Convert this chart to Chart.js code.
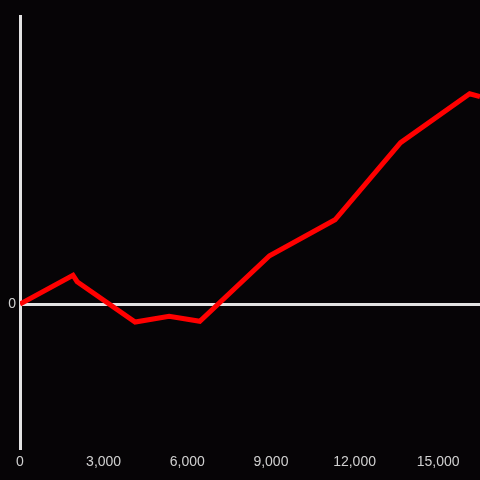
<!DOCTYPE html>
<html>
<head>
<meta charset="utf-8">
<script src="https://cdn.jsdelivr.net/npm/chart.js@4"></script>
<style>
  html, body { margin: 0; padding: 0; background: #060406; }
  #wrap { width: 480px; height: 480px; }
</style>
</head>
<body>
<div id="wrap"><canvas id="chart" width="480" height="480"></canvas></div>
<script>
// values
const xValues = [0, 1900, 2050, 4130, 5350, 6450, 8950, 11300, 13650, 16130, 16500];
const yValues = [0, 0.20, 0.155, -0.125, -0.085, -0.12, 0.335, 0.585, 1.12, 1.46, 1.44];
const xTicks = [0, 3000, 6000, 9000, 12000, 15000];
const yTickLabels = ['0'];

const AXIS_COLOR = '#e2e2e2';
const TEXT_COLOR = '#d0d0d0';

let points = xValues.map((x, i) => ({ x: x, y: yValues[i] }));

const bgPlugin = {
  id: 'bg',
  beforeDraw(chart) {
    let c = chart.ctx;
    c.save();
    c.fillStyle = '#060406';
    c.fillRect(0, 0, chart.width, chart.height);
    c.restore();
  }
};

new Chart(document.getElementById('chart'), {
  type: 'scatter',
  data: {
    datasets: [{
      data: points,
      showLine: true,
      borderColor: '#ff0000',
      backgroundColor: '#ff0000',
      borderWidth: 5,
      pointRadius: 0,
      pointHoverRadius: 0
    }]
  },
  options: {
    responsive: false,
    animation: false,
    layout: { padding: { top: 16, right: 0, left: 0, bottom: 0 } },
    plugins: {
      legend: { display: false },
      tooltip: { enabled: false }
    },
    scales: {
      x: {
        type: 'linear',
        min: 0,
        max: 16500,
        afterFit(scale) { scale.height = 32; },
        afterBuildTicks(scale) { scale.ticks = xTicks.map(v => ({ value: v })); },
        grid: { display: false, drawTicks: false },
        border: { display: false },
        ticks: {
          color: TEXT_COLOR,
          padding: 6,
          maxRotation: 0,
          font: { family: 'Liberation Sans', size: 14 },
          callback: v => v.toLocaleString('en-US')
        }
      },
      y: {
        min: -1,
        max: 2,
        afterFit(scale) { scale.width = 20; },
        grid: {
          drawTicks: false,
          lineWidth: 3,
          color: ctx => (ctx.tick && ctx.tick.value === 0) ? AXIS_COLOR : 'rgba(0,0,0,0)'
        },
        border: { display: true, color: AXIS_COLOR, width: 3 },
        ticks: {
          stepSize: 1,
          color: TEXT_COLOR,
          padding: 4,
          font: { family: 'Liberation Sans', size: 14 },
          callback: v => yTickLabels.includes(String(v)) ? String(v) : ''
        }
      }
    }
  },
  plugins: [bgPlugin]
});
</script>
</body>
</html>
